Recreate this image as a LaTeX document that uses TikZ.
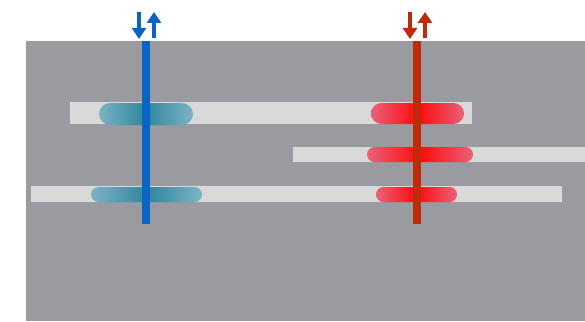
\documentclass[tikz,border=0pt]{standalone}
\usetikzlibrary{arrows.meta}
\definecolor{bg}{HTML}{9A9AA1}
\definecolor{bar}{HTML}{D9D9D9}
\definecolor{blueline}{HTML}{0A64C4}
\definecolor{redline}{HTML}{BF2A08}
\definecolor{tealdark}{HTML}{2F859E}
\definecolor{teallight}{HTML}{7DB3C4}
\definecolor{redbright}{HTML}{FF0A0A}
\definecolor{redlight}{HTML}{E8627A}
\tikzset{
  barstyle/.style={fill=bar, draw=none},
  bluepill/.style={left color=teallight, right color=teallight, middle color=tealdark, draw=none},
  redpill/.style={left color=redlight, right color=redlight, middle color=redbright, draw=none},
  vline/.style={line width=8.5pt},
  arr/.style={line width=3.4pt, -{Triangle[width=14pt,length=11pt]}},
}
\begin{document}
\begin{tikzpicture}[x=1pt,y=-1pt]
\useasboundingbox (0,0) rectangle (585,321);
\fill[bg] (26,41) rectangle (585,321);
% bars
\fill[barstyle] (70,102) rectangle (472,124);
\fill[barstyle] (293,147) rectangle (585,162);
\fill[barstyle] (31,186) rectangle (562,202);
% blue pills
\shade[bluepill, rounded corners=11pt] (99,103) rectangle (193,125);
\shade[bluepill, rounded corners=7.5pt] (91,187) rectangle (202,202);
% red pills
\shade[redpill, rounded corners=10.5pt] (371,103) rectangle (464,124);
\shade[redpill, rounded corners=7.5pt] (367,147) rectangle (473,162);
\shade[redpill, rounded corners=7.5pt] (376,187) rectangle (457,202);
% vertical lines
\draw[vline, blueline] (146,41) -- (146,224);
\draw[vline, redline] (417,41) -- (417,224);
% arrows
\draw[arr, blueline] (139,12) -- (139,39);
\draw[arr, blueline] (154,38) -- (154,12);
\draw[arr, redline] (410,12) -- (410,39);
\draw[arr, redline] (425,38) -- (425,12);
\end{tikzpicture}
\end{document}
